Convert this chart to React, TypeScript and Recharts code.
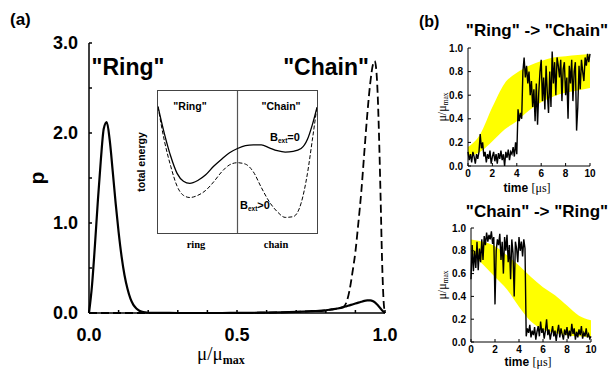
import React from 'react';
import { ComposedChart, LineChart, Line, Area, XAxis, YAxis, ReferenceLine } from 'recharts';

// (a) distribution of the order parameter mu/mu_max
const muValues = [
  0, 0.01, 0.02, 0.03, 0.04, 0.05, 0.06, 0.07, 0.08, 0.09, 0.1, 0.11, 0.12, 0.13, 0.14, 0.15, 0.16, 0.17, 0.18, 0.19, 0.2,
  0.25, 0.3, 0.35, 0.4, 0.45, 0.5, 0.55, 0.6, 0.65, 0.7, 0.75, 0.8,
  0.82, 0.84, 0.86, 0.87, 0.88, 0.89, 0.9, 0.91, 0.92, 0.93, 0.94, 0.95, 0.96, 0.965, 0.97, 0.975, 0.98, 0.985, 0.99, 0.995, 1.0,
];
// solid curve, B_ext = 0
const pNoField = [
  0, 0.3, 0.75, 1.25, 1.7, 2.05, 2.12, 1.92, 1.58, 1.22, 0.9, 0.63, 0.42, 0.27, 0.16, 0.09, 0.05, 0.025, 0.012, 0.006, 0.003,
  0.001, 0, 0, 0, 0, 0.001, 0.002, 0.004, 0.007, 0.012, 0.02, 0.03,
  0.04, 0.05, 0.065, 0.075, 0.085, 0.095, 0.105, 0.115, 0.125, 0.135, 0.14, 0.14, 0.13, 0.12, 0.105, 0.09, 0.07, 0.05, 0.03, 0.015, 0,
];
// dashed curve, B_ext > 0
const pWithField = [
  0, 0, 0, 0, 0, 0, 0, 0, 0, 0, 0, 0, 0, 0, 0, 0, 0, 0, 0, 0, 0,
  0.001, 0, 0, 0, 0, 0.001, 0.002, 0.004, 0.007, 0.012, 0.02, 0.03,
  0.04, 0.05, 0.07, 0.12, 0.25, 0.45, 0.68, 1.0, 1.35, 1.78, 2.2, 2.55, 2.77, 2.8, 2.72, 2.45, 1.95, 1.3, 0.6, 0.15, 0,
];
const pTicks = [0, 0.5, 1, 1.5, 2, 2.5, 3];
const muTicks = [0, 0.1, 0.2, 0.3, 0.4, 0.5, 0.6, 0.7, 0.8, 0.9, 1];

// inset: total energy along ring -> chain
const insetX = [0, 0.04, 0.08, 0.12, 0.16, 0.2, 0.25, 0.3, 0.35, 0.4, 0.45, 0.5, 0.55, 0.6, 0.65, 0.7, 0.75, 0.8, 0.85, 0.9, 0.94, 0.97, 1];
const energyNoField = [0.89, 0.7, 0.54, 0.42, 0.365, 0.35, 0.37, 0.41, 0.47, 0.52, 0.565, 0.595, 0.615, 0.62, 0.62, 0.6, 0.58, 0.57, 0.575, 0.595, 0.66, 0.76, 0.885];
const energyWithField = [0.89, 0.65, 0.47, 0.33, 0.265, 0.25, 0.265, 0.3, 0.36, 0.43, 0.48, 0.495, 0.485, 0.43, 0.32, 0.22, 0.15, 0.11, 0.115, 0.21, 0.42, 0.65, 0.89];

// (b) time traces, one value every 0.1 us
const ringToChain = [
  0.12, 0.05, 0.1, 0.03, 0.12, 0.08, 0.02, 0.1, 0.06, 0.12,
  0.27, 0.15, 0.2, 0.08, 0.12, 0.03, 0.1, 0.06, 0.13, 0.02,
  0.08, 0.12, 0.04, 0.1, 0.02, 0.11, 0.06, 0.13, 0.05, 0.1,
  0.0, 0.12, 0.07, 0.14, 0.05, 0.12, 0.1, 0.16, 0.08, 0.2,
  0.1, 0.48, 0.38, 0.45, 0.4, 0.8, 0.92, 0.75, 0.85, 0.7,
  0.8, 0.6, 0.72, 0.5, 0.65, 0.38, 0.7, 0.35, 0.62, 0.8,
  0.9, 0.55, 0.75, 0.48, 0.85, 0.62, 0.45, 0.8, 0.5, 0.97,
  0.7, 0.88, 0.6, 0.92, 0.85, 0.75, 0.9, 0.55, 0.82, 0.88,
  0.6, 0.75, 0.4, 0.85, 0.7, 0.9, 0.55, 0.8, 0.88, 0.3,
  0.5, 0.85, 0.65, 0.9, 0.8, 0.72, 0.92, 0.85, 0.95, 0.88,
  0.95,
];
const chainToRing = [
  0.55, 0.85, 0.62, 0.8, 0.65, 0.88, 0.63, 0.82, 0.7, 0.9,
  0.72, 0.93, 0.85, 0.96, 0.88, 0.94, 0.9, 0.97, 0.86, 0.92,
  0.33, 0.8, 0.9, 0.85, 0.95, 0.72, 0.88, 0.6, 0.92, 0.8,
  0.94, 0.7, 0.85, 0.55, 0.9, 0.78, 0.4, 0.88, 0.82, 0.7,
  0.92, 0.8, 0.88, 0.75, 0.9, 0.82, 0.05, 0.12, 0.08, 0.15,
  0.04, 0.1, 0.06, 0.13, 0.02, 0.09, 0.14, 0.05, 0.18, 0.08,
  0.12, 0.03, 0.1, 0.2, 0.06, 0.11, 0.02, 0.08, 0.14, 0.05,
  0.1, 0.01, 0.09, 0.15, 0.04, 0.12, 0.07, 0.02, 0.11, 0.06,
  0.13, 0.03, 0.1, 0.05, 0.16, 0.07, 0.12, 0.02, 0.09, 0.04,
  0.11, 0.06, 0.14, 0.03, 0.08, 0.05, 0.12, 0.04, 0.07, 0.03,
  0.05,
];
// yellow bands (spread of many runs)
const bandTimes = [0, 1, 2, 3, 4, 5, 6, 7, 8, 9, 10];
const ringToChainLow = [0.08, 0.12, 0.21, 0.31, 0.38, 0.47, 0.54, 0.59, 0.62, 0.64, 0.66];
const ringToChainHigh = [0.16, 0.27, 0.5, 0.7, 0.79, 0.85, 0.89, 0.92, 0.93, 0.94, 0.95];
const chainToRingLow = [0.78, 0.68, 0.57, 0.46, 0.31, 0.18, 0.11, 0.08, 0.06, 0.05, 0.04];
const chainToRingHigh = [0.9, 0.88, 0.84, 0.76, 0.67, 0.57, 0.48, 0.41, 0.32, 0.23, 0.19];
const timeTicks = [0, 2, 4, 6, 8, 10];
const fracTicks = [0, 0.2, 0.4, 0.6, 0.8, 1];

const sans = '"Liberation Sans", Arial, Helvetica, sans-serif';
const serif = '"Liberation Serif", "Times New Roman", serif';

const mainData = muValues.map((mu, i) => ({ mu, solid: pNoField[i], dashed: pWithField[i] }));
const insetData = insetX.map((x, i) => ({ x, e0: energyNoField[i], e1: energyWithField[i] }));
const traceTop = ringToChain.map((mu, i) => ({ t: i / 10, mu }));
const traceBottom = chainToRing.map((mu, i) => ({ t: i / 10, mu }));
const bandTop = bandTimes.map((t, i) => ({ t, band: [ringToChainLow[i], ringToChainHigh[i]] }));
const bandBottom = bandTimes.map((t, i) => ({ t, band: [chainToRingLow[i], chainToRingHigh[i]] }));

const bigTick = { fill: '#000', fontSize: 18, fontWeight: 'bold', fontFamily: sans };
const smallTick = { fill: '#000', fontSize: 10, fontWeight: 'bold', fontFamily: sans };

const isHalf = (v: number) => Math.abs(v * 2 - Math.round(v * 2)) < 1e-6;
const isWhole = (v: number) => Math.abs(v - Math.round(v)) < 1e-6;

function TracePanel({ trace, band, top, height, margin }: any) {
  return (
    <div style={{ position: 'absolute', left: 410, top, width: 203, height }}>
      <ComposedChart width={203} height={height} margin={margin}>
        <XAxis dataKey="t" type="number" domain={[0, 10]} ticks={timeTicks} interval={0}
          height={14} tickSize={-3} tickMargin={7} stroke="#000" tick={smallTick} />
        <XAxis xAxisId="top" orientation="top" type="number" domain={[0, 10]} height={0}
          tick={false} tickLine={false} stroke="#000" />
        <YAxis type="number" domain={[0, 1]} ticks={fracTicks} interval={0} width={58}
          tickFormatter={(v: number) => v.toFixed(1)} tickSize={-3} tickMargin={8} stroke="#000" tick={smallTick} />
        <YAxis yAxisId="right" orientation="right" type="number" domain={[0, 1]} width={0}
          tick={false} tickLine={false} stroke="#000" />
        <Area data={band} dataKey="band" type="monotone" stroke="none" fill="#ffff00" fillOpacity={1}
          isAnimationActive={false} />
        <Line data={trace} dataKey="mu" type="linear" stroke="#000" strokeWidth={1.4} dot={false}
          isAnimationActive={false} />
      </ComposedChart>
    </div>
  );
}

export default function App() {
  return (
    <div style={{ position: 'absolute', left: 0, top: 0, width: 613, height: 370, background: '#fff', overflow: 'hidden' }}>
      <div style={{ position: 'absolute', left: 0, top: 0 }}>
        <LineChart width={410} height={370} data={mainData} margin={{ top: 43, right: 25, bottom: 27, left: 0 }}>
          <XAxis xAxisId="b" dataKey="mu" type="number" domain={[0, 1]} ticks={muTicks} interval={0}
            tickFormatter={(v: number) => (isHalf(v) ? v.toFixed(1) : '')}
            height={30} tickSize={-3} tickMargin={18} stroke="#000" strokeWidth={1.5} tick={bigTick} />
          <XAxis xAxisId="t" orientation="top" type="number" domain={[0, 1]} ticks={muTicks} interval={0}
            tickFormatter={() => ''} height={0} tickSize={-3} stroke="#000" strokeWidth={1.5} />
          <YAxis yAxisId="l" type="number" domain={[0, 3]} ticks={pTicks} interval={0}
            tickFormatter={(v: number) => (isWhole(v) ? v.toFixed(1) : '')}
            width={89} tickSize={-3} tickMargin={14} stroke="#000" strokeWidth={1.5} tick={bigTick} />
          <YAxis yAxisId="r" orientation="right" type="number" domain={[0, 3]} ticks={pTicks} interval={0}
            tickFormatter={() => ''} width={0} tickSize={-3} stroke="#000" strokeWidth={1.5} />
          <Line xAxisId="b" yAxisId="l" dataKey="dashed" type="monotone" stroke="#000" strokeWidth={1.8}
            strokeDasharray="8 4" dot={false} isAnimationActive={false} />
          <Line xAxisId="b" yAxisId="l" dataKey="solid" type="monotone" stroke="#000" strokeWidth={2.2}
            dot={false} isAnimationActive={false} />
        </LineChart>
      </div>

      <div style={{ position: 'absolute', left: 157, top: 90, width: 159, height: 142, border: '1px solid #444', background: '#fff' }}>
        <LineChart width={159} height={142} data={insetData} margin={{ top: 0, right: 0, bottom: 0, left: 0 }}>
          <XAxis dataKey="x" type="number" domain={[0, 1]} hide />
          <YAxis type="number" domain={[0, 1]} hide />
          <ReferenceLine x={0.5} stroke="#555" strokeWidth={1.2} />
          <Line dataKey="e0" type="monotone" stroke="#000" strokeWidth={1.3} dot={false} isAnimationActive={false} />
          <Line dataKey="e1" type="monotone" stroke="#000" strokeWidth={1} strokeDasharray="4 2" dot={false}
            isAnimationActive={false} />
        </LineChart>
      </div>

      <TracePanel trace={traceTop} band={bandTop} top={0} height={190}
        margin={{ top: 48, right: 23, bottom: 10, left: 0 }} />
      <TracePanel trace={traceBottom} band={bandBottom} top={190} height={180}
        margin={{ top: 38, right: 22, bottom: 14, left: 3 }} />

      <svg width={613} height={370} style={{ position: 'absolute', left: 0, top: 0, pointerEvents: 'none' }}>
        <g fontFamily={sans} fontWeight="bold" fill="#000">
          <text x={10} y={25} fontSize={17}>(a)</text>
          <text x={128} y={75} fontSize={23} textAnchor="middle">"Ring"</text>
          <text x={326} y={75} fontSize={23} textAnchor="middle">"Chain"</text>
          <text transform="translate(44,178) rotate(-90)" fontSize={21} textAnchor="middle">p</text>

          <text x={190} y={110} fontSize={10.5} textAnchor="middle">"Ring"</text>
          <text x={281} y={110} fontSize={10.5} textAnchor="middle">"Chain"</text>
          <text x={270} y={141} fontSize={11}>B<tspan fontSize={6.5} dy={2}>ext</tspan><tspan dy={-2}>=0</tspan></text>
          <text x={240} y={209} fontSize={11}>B<tspan fontSize={6.5} dy={2}>ext</tspan><tspan dy={-2}>&gt;0</tspan></text>
          <text transform="translate(145,162) rotate(-90)" fontSize={10.5} textAnchor="middle">total energy</text>

          <text x={419} y={27} fontSize={16}>(b)</text>
          <text x={537} y={36} fontSize={17} textAnchor="middle">"Ring" -&gt; "Chain"</text>
          <text x={537} y={217} fontSize={17} textAnchor="middle">"Chain" -&gt; "Ring"</text>
          <text x={527} y={192} fontSize={12} textAnchor="middle">time <tspan fontFamily={serif} fontWeight="normal" fill="#000">[μs]</tspan></text>
          <text x={528} y={366} fontSize={12} textAnchor="middle">time <tspan fontFamily={serif} fontWeight="normal" fill="#000">[μs]</tspan></text>
        </g>
        <g fontFamily={serif} fill="#000">
          <text x={197} y={360} fontSize={19}>μ/μ<tspan fontSize={12} fontWeight="bold" dy={4}>max</tspan></text>
          <text x={196} y={248} fontSize={10.5} fontWeight="bold" textAnchor="middle">ring</text>
          <text x={276} y={248} fontSize={10.5} fontWeight="bold" textAnchor="middle">chain</text>
          <text transform="translate(446,107) rotate(-90)" fontSize={12} textAnchor="middle">μ/μ<tspan fontSize={7.5} dy={2}>max</tspan></text>
          <text transform="translate(446,285) rotate(-90)" fontSize={12} textAnchor="middle">μ/μ<tspan fontSize={7.5} dy={2}>max</tspan></text>
        </g>
      </svg>
    </div>
  );
}
